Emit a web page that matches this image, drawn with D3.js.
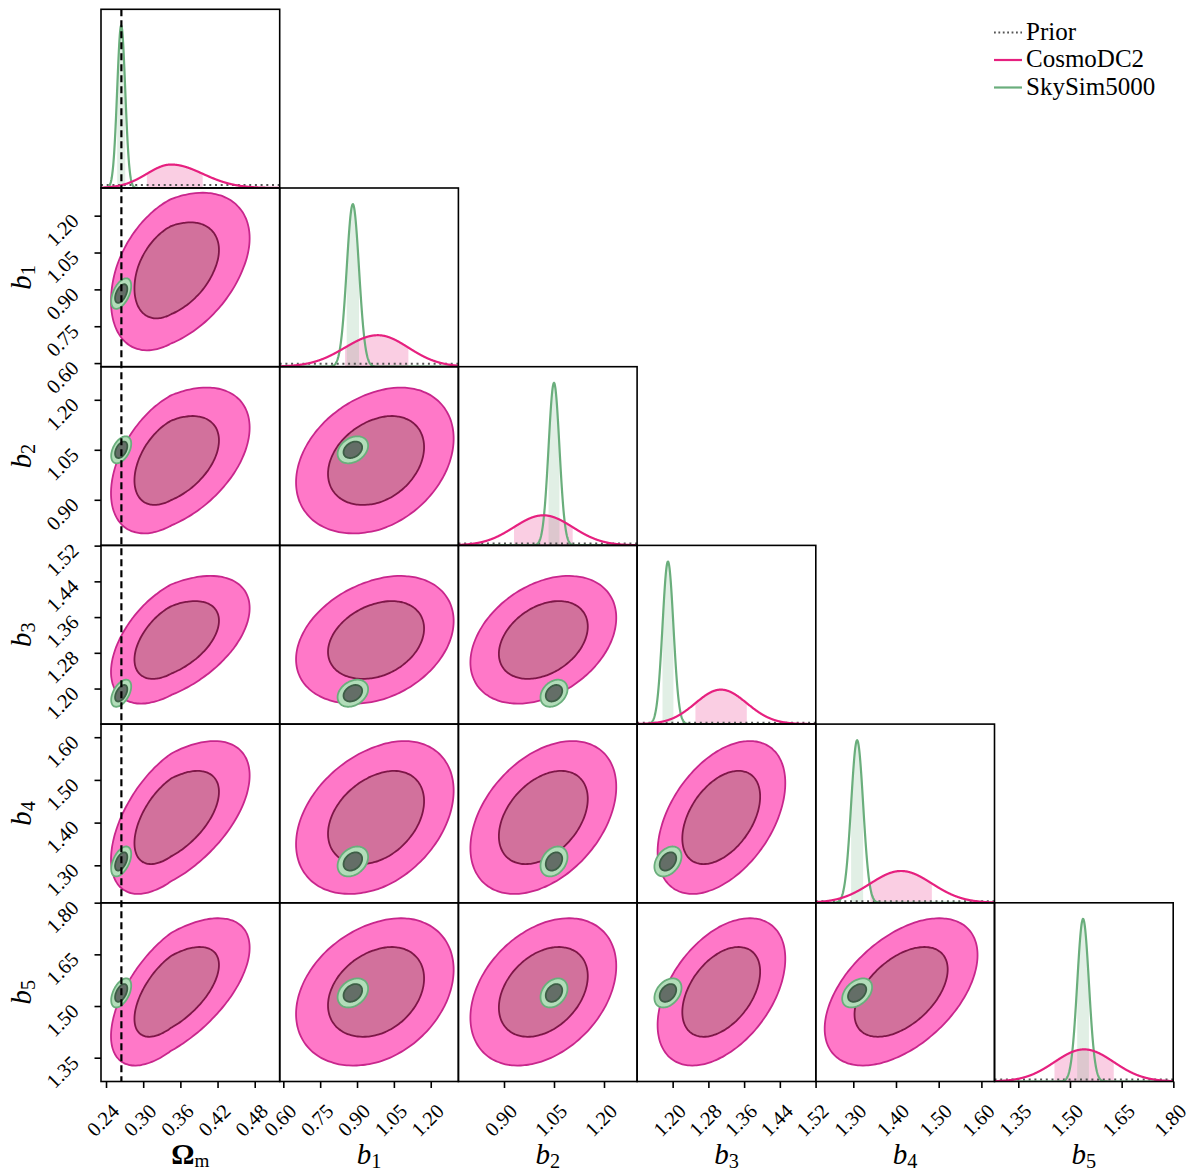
<!DOCTYPE html>
<html><head><meta charset="utf-8">
<script src="https://cdn.jsdelivr.net/npm/d3@7"></script>
<style>body{margin:0;background:#fff} svg{display:block}</style>
</head><body><svg id="c" width="1193" height="1175"></svg>
<script>
// ---------------- data ----------------
const paramNames = ["Ωm","b1","b2","b3","b4","b5"];
const axisDomains = [[0.2319,0.5203],[0.5853,1.3126],[0.7632,1.2993],[1.1204,1.5205],[1.2122,1.6307],[1.2809,1.7996]];
const tickValues = [
  [0.24,0.30,0.36,0.42,0.48],
  [0.60,0.75,0.90,1.05,1.20],
  [0.90,1.05,1.20],
  [1.20,1.28,1.36,1.44,1.52],
  [1.30,1.40,1.50,1.60],
  [1.35,1.50,1.65,1.80]
];
const truthOmegaM = 0.2648;
// CosmoDC2 posterior summary (mode, lower / upper 1-sigma widths)
const cosmoMean  = [0.345, 0.985, 1.018, 1.308, 1.412, 1.541];
const cosmoSigLo = [0.039, 0.134, 0.088, 0.057, 0.072, 0.086];
const cosmoSigHi = [0.051, 0.124, 0.088, 0.058, 0.072, 0.086];
// SkySim5000 posterior summary
const skyMean = [0.2645, 0.883, 1.050, 1.1895, 1.309, 1.538];
const skySig  = [0.0065, 0.025, 0.0163, 0.0122, 0.0141, 0.0170];
// pairwise correlations (row i, col j<i)
const cosmoCorr = [[],[0.40],[0.45,0.30],[0.50,0.30,0.35],[0.55,0.35,0.40,0.45],[0.60,0.30,0.35,0.45,0.50]];
const skyCorr   = [[],[0.50],[0.45,0.30],[0.50,0.30,0.30],[0.50,0.30,0.30,0.35],[0.50,0.30,0.30,0.35,0.40]];
// uniform priors
const priorRanges = [[0.1,1.0],[0.5,4.0],[0.5,4.0],[0.5,4.0],[0.5,4.0],[0.5,4.0]];
const contourLevels = [0.9545, 0.6827];
const legendLabels = ["Prior","CosmoDC2","SkySim5000"];

// ---------------- style ----------------
const S = 178.7, L0 = 101, T0 = 9.3, N = paramNames.length;
const pinkLine = "#e6207f", greenLine = "#6aae7c";
const pinkFill = ["#ff78c8","#d2719c"], pinkEdge = ["#c8268c","#7d1747"];
const greenFill = ["#b2ddb9","#646e67"], greenEdge = ["#6aae7c","#3d5e46"];
const serif = "'Liberation Serif','Times New Roman',serif";

const svg = d3.select("#c");
const defs = svg.append("defs");
const colX = j => L0 + j*S, rowY = i => T0 + i*S;
const xScale = j => d3.scaleLinear().domain(axisDomains[j]).range([colX(j), colX(j)+S]);
const yScale2 = i => d3.scaleLinear().domain(axisDomains[i]).range([rowY(i)+S, rowY(i)]);

function clip(i,j){
  const id = `clip-${i}-${j}`;
  defs.append("clipPath").attr("id",id).append("rect")
    .attr("x",colX(j)).attr("y",rowY(i)).attr("width",S).attr("height",S);
  return `url(#${id})`;
}
function splitNormal(x, mu, sl, sh){
  const s = x < mu ? sl : sh;
  return 2/((sl+sh)*Math.sqrt(2*Math.PI))*Math.exp(-0.5*((x-mu)/s)**2);
}
function ellipse(mx,my,slx,shx,sly,shy,rho,level){
  const r = Math.sqrt(-2*Math.log(1-level));
  return d3.range(0,120).map(k=>{
    const t = 2*Math.PI*k/120;
    const X = r*Math.cos(t), Y = rho*X + Math.sqrt(1-rho*rho)*r*Math.sin(t);
    return [mx + X*(X<0?slx:shx), my + Y*(Y<0?sly:shy)];
  });
}

// ---------------- 2D panels ----------------
for (let i=1;i<N;i++){
  for (let j=0;j<i;j++){
    const xs = xScale(j), ys = yScale2(i);
    const g = svg.append("g").attr("clip-path", clip(i,j));
    const line = d3.line().x(d=>xs(d[0])).y(d=>ys(d[1])).curve(d3.curveCardinalClosed);
    contourLevels.forEach((lv,k)=>{
      const pts = ellipse(cosmoMean[j],cosmoMean[i],cosmoSigLo[j],cosmoSigHi[j],cosmoSigLo[i],cosmoSigHi[i],cosmoCorr[i][j],lv);
      g.append("path").attr("d",line(pts)).attr("fill",pinkFill[k]).attr("stroke",pinkEdge[k]).attr("stroke-width",1.8);
    });
    contourLevels.forEach((lv,k)=>{
      const pts = ellipse(skyMean[j],skyMean[i],skySig[j],skySig[j],skySig[i],skySig[i],skyCorr[i][j],lv);
      g.append("path").attr("d",line(pts)).attr("fill",greenFill[k]).attr("stroke",greenEdge[k]).attr("stroke-width",1.8);
    });
  }
}

// ---------------- 1D panels ----------------
for (let i=0;i<N;i++){
  const xs = xScale(i);
  const [d0,d1] = axisDomains[i];
  const xsamp = d3.range(0,601).map(k=>d0+(d1-d0)*k/600);
  const pinkD = xsamp.map(x=>[x, splitNormal(x,cosmoMean[i],cosmoSigLo[i],cosmoSigHi[i])]);
  const greenD = xsamp.map(x=>[x, splitNormal(x,skyMean[i],skySig[i],skySig[i])]);
  const ymax = 1.1*d3.max(greenD.concat(pinkD), d=>d[1]);
  const ys = d3.scaleLinear().domain([0,ymax]).range([rowY(i)+S, rowY(i)]);
  const g = svg.append("g").attr("clip-path", clip(i,i));
  const area = d3.area().x(d=>xs(d[0])).y0(ys(0)).y1(d=>ys(d[1]));
  const line = d3.line().x(d=>xs(d[0])).y(d=>ys(d[1]));
  const lo = cosmoMean[i]-cosmoSigLo[i], hi = cosmoMean[i]+cosmoSigHi[i];
  const pinkShade = [[lo,splitNormal(lo,cosmoMean[i],cosmoSigLo[i],cosmoSigHi[i])]].concat(pinkD.filter(d=>d[0]>lo&&d[0]<hi),[[hi,splitNormal(hi,cosmoMean[i],cosmoSigLo[i],cosmoSigHi[i])]]);
  g.append("path").attr("d",area(pinkShade)).attr("fill",pinkLine).attr("fill-opacity",0.22);
  const glo = skyMean[i]-skySig[i], ghi = skyMean[i]+skySig[i];
  const greenShade = [[glo,splitNormal(glo,skyMean[i],skySig[i],skySig[i])]].concat(greenD.filter(d=>d[0]>glo&&d[0]<ghi),[[ghi,splitNormal(ghi,skyMean[i],skySig[i],skySig[i])]]);
  g.append("path").attr("d",area(greenShade)).attr("fill",greenLine).attr("fill-opacity",0.2);
  const pr = priorRanges[i], pd = 1/(pr[1]-pr[0]);
  g.append("line").attr("x1",xs(Math.max(d0,pr[0]))).attr("x2",xs(Math.min(d1,pr[1])))
    .attr("y1",ys(pd)).attr("y2",ys(pd)).attr("stroke","#555").attr("stroke-width",2).attr("stroke-dasharray","2,3.7");
  g.append("path").attr("d",line(greenD)).attr("fill","none").attr("stroke",greenLine).attr("stroke-width",2.2);
  g.append("path").attr("d",line(pinkD)).attr("fill","none").attr("stroke",pinkLine).attr("stroke-width",2.2);
}

// truth line
{
  const xs = xScale(0);
  svg.append("line").attr("x1",xs(truthOmegaM)).attr("x2",xs(truthOmegaM))
    .attr("y1",rowY(0)).attr("y2",rowY(N)).attr("stroke","#000").attr("stroke-width",2.2).attr("stroke-dasharray","7,4");
}

// frames
for (let i=0;i<N;i++) for (let j=0;j<=i;j++){
  svg.append("rect").attr("x",colX(j)).attr("y",rowY(i)).attr("width",S).attr("height",S)
    .attr("fill","none").attr("stroke","#000").attr("stroke-width",1.6);
}

// axes
const fmt = d3.format(".2f");
const tickFont = 20.5;
for (let j=0;j<N;j++){
  const ax = svg.append("g").attr("transform",`translate(0,${rowY(N)})`)
    .call(d3.axisBottom(xScale(j)).tickValues(tickValues[j]).tickSize(6.5).tickFormat(fmt));
  ax.select(".domain").remove();
  ax.selectAll("line").attr("stroke","#000").attr("stroke-width",1.6);
  ax.selectAll("text").attr("x",0).attr("y",0).attr("dy",0)
    .attr("transform","translate(14,31) rotate(-45)").style("text-anchor","end")
    .attr("font-family",serif).attr("font-size",tickFont).attr("fill","#000");
  ax.attr("font-family",null).attr("font-size",null);
}
for (let i=1;i<N;i++){
  const ax = svg.append("g").attr("transform",`translate(${colX(0)},0)`)
    .call(d3.axisLeft(yScale2(i)).tickValues(tickValues[i]).tickSize(6.5).tickFormat(fmt));
  ax.select(".domain").remove();
  ax.selectAll("line").attr("stroke","#000").attr("stroke-width",1.6);
  ax.selectAll("text").attr("x",0).attr("y",0).attr("dy",0)
    .attr("transform","translate(-21,6) rotate(-45)").style("text-anchor","end")
    .attr("font-family",serif).attr("font-size",tickFont).attr("fill","#000");
  ax.attr("font-family",null).attr("font-size",null);
}

// axis labels
function label(sel, name){
  if (name==="Ωm"){
    sel.append("tspan").attr("font-weight","bold").text("Ω");
    sel.append("tspan").attr("font-size","0.66em").attr("dy",3).text("m");
  } else {
    sel.append("tspan").attr("font-style","italic").text(name[0]);
    sel.append("tspan").attr("font-size","0.7em").attr("dy",4).text(name.slice(1));
  }
}
for (let j=0;j<N;j++){
  const t = svg.append("text").attr("x",colX(j)+S/2).attr("y",1164).attr("text-anchor","middle")
    .attr("font-family",serif).attr("font-size",29);
  label(t, paramNames[j]);
}
for (let i=1;i<N;i++){
  const t = svg.append("text").attr("transform",`translate(31,${rowY(i)+S/2}) rotate(-90)`).attr("text-anchor","middle")
    .attr("font-family",serif).attr("font-size",29);
  label(t, paramNames[i]);
}

// legend
const legColors = ["#555", pinkLine, greenLine];
legendLabels.forEach((lab,k)=>{
  const y = 32.5 + k*27.5;
  svg.append("line").attr("x1",994).attr("x2",1022).attr("y1",y).attr("y2",y)
    .attr("stroke",legColors[k]).attr("stroke-width",k===0?1.8:2.2)
    .attr("stroke-dasharray",k===0?"1.8,2.6":null);
  svg.append("text").attr("x",1026).attr("y",y+7).attr("font-family",serif).attr("font-size",25).text(lab);
});
</script></body></html>
